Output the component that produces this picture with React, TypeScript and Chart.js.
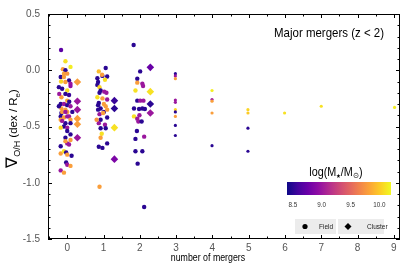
import React, { useEffect, useRef } from "react";
import { Chart, registerables } from "chart.js";
Chart.register(...registerables);

// ---- axis settings / tick labels ----
const xRange = [-0.53, 9.17];
const yRange = [-1.5, 0.5];
const xTicks = [0, 1, 2, 3, 4, 5, 6, 7, 8, 9];
const yTicks = [-1.5, -1.0, -0.5, 0.0, 0.5];
const massRange = [8.4, 10.2];
const cbarTicks = [8.5, 9.0, 9.5, 10.0];
const xTitle = "number of mergers";
const panelLabel = "Major mergers (z < 2)";

// ---- data: [x (number of mergers, jittered), gradient (dex/Re), log(M*/Msun)] ----
const fieldMergers0 = [
  [-0.17, 0.18, 8.7], [-0.05, 0.08, 10.1], [0.09, 0.03, 10.15], [-0.12, 0.01, 9.8], [-0.05, 0.0, 8.5],
  [-0.09, -0.03, 9.8], [0.0, -0.03, 9.75], [-0.18, -0.06, 8.5], [-0.09, -0.06, 9.8], [0.05, -0.09, 8.5],
  [-0.17, -0.1, 10.05], [-0.05, -0.105, 9.8], [0.09, -0.12, 9.0], [0.09, -0.14, 8.95], [-0.14, -0.165, 8.5],
  [0.0, -0.18, 10.1], [-0.05, -0.21, 8.5], [0.05, -0.22, 8.55], [-0.16, -0.24, 9.8], [0.0, -0.27, 9.85],
  [-0.18, -0.3, 8.5], [-0.09, -0.3, 9.0], [0.0, -0.31, 8.5], [0.09, -0.32, 9.0], [-0.16, -0.34, 9.8],
  [-0.05, -0.35, 9.8], [-0.16, -0.38, 8.5], [0.0, -0.37, 9.8], [-0.18, -0.41, 8.5], [-0.09, -0.42, 9.8],
  [0.05, -0.41, 9.0], [0.09, -0.44, 9.8], [-0.14, -0.37, 9.8], [-0.05, -0.37, 9.0], [0.0, -0.41, 9.0],
  [-0.18, -0.44, 9.8], [-0.05, -0.47, 8.5], [-0.09, -0.5, 8.5], [-0.18, -0.51, 10.05], [0.0, -0.51, 9.0],
  [0.09, -0.47, 8.5], [0.0, -0.54, 8.5], [0.09, -0.57, 8.5], [-0.05, -0.6, 8.5], [0.09, -0.62, 9.8],
  [0.0, -0.65, 9.0], [0.05, -0.66, 9.0], [-0.05, -0.63, 9.8], [-0.18, -0.675, 8.5], [-0.18, -0.74, 9.8],
  [-0.09, -0.72, 10.1], [-0.03, -0.73, 8.5], [0.0, -0.75, 9.8], [0.12, -0.76, 8.5], [-0.03, -0.82, 8.5],
  [0.0, -0.84, 9.0], [0.09, -0.85, 9.8], [-0.18, -0.89, 9.0], [-0.09, -0.91, 9.8], [-0.23, -0.15, 8.5],
  [-0.22, -0.21, 9.0], [0.055, -0.28, 8.5], [-0.14, -0.45, 9.0], [0.14, -0.37, 8.5], [-0.23, -0.32, 8.5],
];
const fieldMergers1 = [
  [1.06, 0.02, 8.5], [0.87, -0.01, 9.95], [0.83, -0.07, 8.5], [0.97, -0.05, 8.5], [1.1, -0.055, 8.5],
  [1.04, -0.085, 10.1], [0.85, -0.105, 8.5], [0.83, -0.13, 8.5], [0.89, -0.15, 10.05], [0.92, -0.18, 8.5],
  [1.02, -0.19, 9.0], [1.08, -0.2, 9.0], [0.89, -0.2, 8.5], [0.83, -0.24, 10.1], [0.97, -0.25, 9.8],
  [1.1, -0.26, 9.0], [0.87, -0.29, 8.5], [0.85, -0.31, 8.5], [1.01, -0.3, 9.8], [1.06, -0.32, 9.8],
  [0.92, -0.34, 8.5], [0.85, -0.35, 8.5], [1.01, -0.37, 8.5], [1.1, -0.35, 9.8], [0.89, -0.39, 9.0],
  [0.92, -0.44, 8.5], [1.1, -0.42, 8.5], [0.87, -0.47, 9.0], [1.04, -0.485, 9.0], [0.92, -0.515, 8.5],
  [1.06, -0.515, 8.5], [0.95, -0.565, 10.1], [0.92, -0.6, 9.8], [0.87, -0.68, 8.5], [0.97, -0.69, 8.5],
  [1.1, -0.65, 8.5], [0.89, -1.035, 9.8], [0.99, -0.38, 9.8], [0.81, -0.44, 9.75], [0.96, -0.04, 9.8],
];
const fieldMergers2 = [
  [1.83, 0.225, 8.5], [2.01, -0.01, 8.5], [1.93, -0.076, 8.5], [1.93, -0.11, 9.8], [2.07, -0.12, 9.0],
  [2.09, -0.14, 9.0], [1.88, -0.18, 10.1], [1.93, -0.27, 8.5], [2.01, -0.27, 9.0], [2.1, -0.27, 9.0],
  [1.84, -0.34, 8.5], [1.98, -0.345, 8.5], [2.07, -0.34, 8.5], [2.14, -0.345, 8.5], [1.84, -0.41, 10.1],
  [1.93, -0.43, 9.0], [1.96, -0.455, 9.0], [2.05, -0.455, 8.5], [1.92, -0.54, 8.5], [1.88, -0.61, 8.5],
  [2.12, -0.59, 9.0], [2.07, -0.72, 8.5], [1.88, -0.72, 8.5], [1.94, -0.83, 8.5], [2.12, -1.215, 8.5],
  [1.99, -0.4, 9.0],
];
const fieldMergers3to9 = [
  [2.98, -0.03, 8.5], [2.98, -0.05, 9.0], [2.98, -0.075, 9.8], [2.98, -0.265, 9.0], [2.98, -0.285, 9.0],
  [2.98, -0.35, 10.05], [2.98, -0.37, 8.5], [2.98, -0.41, 9.8], [2.98, -0.49, 8.5], [2.98, -0.58, 8.5],
  [3.99, -0.18, 10.15], [3.99, -0.26, 9.0], [3.99, -0.275, 9.8], [3.99, -0.38, 9.8], [3.99, -0.67, 8.5],
  [4.98, -0.35, 10.05], [4.98, -0.38, 10.0], [4.98, -0.515, 8.5], [4.98, -0.72, 8.5],
  [5.99, -0.38, 10.1], [7.0, -0.32, 10.1], [9.02, -0.33, 10.15],
];
const clusterPoints = [
  [0.28, -0.105, 9.8], [0.28, -0.275, 9.0], [0.28, -0.35, 9.0], [0.28, -0.43, 9.8], [0.28, -0.48, 9.8],
  [0.28, -0.6, 9.0], [1.3, -0.27, 8.55], [1.3, -0.34, 8.5], [1.3, -0.51, 10.1], [1.3, -0.79, 8.85],
  [2.29, 0.026, 8.75], [2.29, -0.19, 10.1], [2.29, -0.3, 8.5], [2.29, -0.38, 9.0],
];

// ---- plasma colormap ----
const PLASMA = ["#0d0887", "#41049d", "#6a00a8", "#8f0da4", "#b12a90", "#cc4778", "#e16462", "#f2844b", "#fca636", "#fcce25", "#f0f921"];
function hexRgb(h: string) {
  return [parseInt(h.slice(1, 3), 16), parseInt(h.slice(3, 5), 16), parseInt(h.slice(5, 7), 16)];
}
function plasma(t: number) {
  t = Math.max(0, Math.min(1, t));
  const f = t * 10;
  const i = Math.min(9, Math.floor(f));
  const u = f - i;
  const a = hexRgb(PLASMA[i]);
  const b = hexRgb(PLASMA[i + 1]);
  const c = a.map((v, k) => Math.round(v + (b[k] - v) * u));
  return `rgb(${c[0]},${c[1]},${c[2]})`;
}
const massColor = (m: number) => plasma((m - massRange[0]) / (massRange[1] - massRange[0]));

const FONT = "'Liberation Sans', Arial, Helvetica, sans-serif";

function drawPieces(ctx: CanvasRenderingContext2D, pieces: [string, number, number][], x: number, y: number, sx = 1) {
  let total = 0;
  for (const [t, s] of pieces) {
    ctx.font = `${s}px ${FONT}`;
    total += ctx.measureText(t).width;
  }
  ctx.save();
  ctx.translate(x, y);
  ctx.scale(sx, 1);
  let cx = -total / 2;
  ctx.textAlign = "left";
  ctx.textBaseline = "alphabetic";
  for (const [t, s, dy] of pieces) {
    ctx.font = `${s}px ${FONT}`;
    ctx.fillText(t, cx, dy);
    cx += ctx.measureText(t).width;
  }
  ctx.restore();
}

const framePlugin = {
  id: "frame",
  afterDraw(chart: any) {
    const { ctx, chartArea: a, scales } = chart;
    const xs = scales.x;
    const ys = scales.y;
    ctx.save();
    ctx.strokeStyle = "#000";
    ctx.lineWidth = 1;
    ctx.strokeRect(a.left + 0.5, a.top + 0.5, a.right - a.left - 1, a.bottom - a.top - 1);
    ctx.beginPath();
    const xt = (v: number, len: number) => {
      const p = Math.round(xs.getPixelForValue(v)) + 0.5;
      ctx.moveTo(p, a.bottom); ctx.lineTo(p, a.bottom - len);
      ctx.moveTo(p, a.top); ctx.lineTo(p, a.top + len);
    };
    const yt = (v: number, len: number) => {
      const p = Math.round(ys.getPixelForValue(v)) + 0.5;
      ctx.moveTo(a.left, p); ctx.lineTo(a.left + len, p);
      ctx.moveTo(a.right, p); ctx.lineTo(a.right - len, p);
    };
    xTicks.forEach((v) => xt(v, 4));
    for (let k = Math.ceil(xRange[0] * 2); k <= Math.floor(xRange[1] * 2); k++) if (k % 2) xt(k / 2, 2.5);
    yTicks.forEach((v) => yt(v, 4));
    for (let k = -15; k <= 5; k++) if (k % 5) yt(k / 10, 2.5);
    ctx.stroke();
    ctx.restore();
  },
};

const overlayPlugin = {
  id: "overlay",
  afterDraw(chart: any) {
    const { ctx, chartArea: a } = chart;
    ctx.save();
    ctx.fillStyle = "#000";
    // y-axis title
    ctx.save();
    ctx.translate(17, (a.top + a.bottom) / 2 + 2);
    ctx.rotate(-Math.PI / 2);
    drawPieces(ctx, [["\u2207", 16, 0], ["O/H", 9, 3], [" (dex / R", 11.5, 0], ["e", 8, 3], [")", 11.5, 0]], 0, 0);
    ctx.restore();
    // x-axis title
    drawPieces(ctx, [[xTitle, 10, 0]], 208, 261, 0.88);
    // panel label
    drawPieces(ctx, [[panelLabel, 13.5, 0]], 329, 37, 0.85);
    // colour bar
    const cx0 = 287, cx1 = 391, cy0 = 182, cy1 = 195;
    const g = ctx.createLinearGradient(cx0, 0, cx1, 0);
    for (let i = 0; i <= 20; i++) g.addColorStop(i / 20, plasma(i / 20));
    ctx.fillStyle = g;
    ctx.fillRect(cx0, cy0, cx1 - cx0, cy1 - cy0);
    ctx.fillStyle = "#333";
    cbarTicks.forEach((v) => {
      const px = cx0 + ((v - massRange[0]) / (massRange[1] - massRange[0])) * (cx1 - cx0);
      drawPieces(ctx, [[v.toFixed(1), 7, 0]], px, 207, 0.9);
    });
    ctx.fillStyle = "#000";
    drawPieces(ctx, [["log(M", 12, 0], ["\u2605", 5.5, 2], ["/M", 12, 0], ["\u2299", 8, 2], [")", 12, 0]], 336, 176, 0.9);
    // marker legend
    ctx.fillStyle = "#ececec";
    ctx.fillRect(295, 219, 41, 15);
    ctx.fillRect(338, 219, 46, 15);
    ctx.fillStyle = "#000";
    ctx.beginPath();
    ctx.arc(305, 226.5, 2.6, 0, Math.PI * 2);
    ctx.fill();
    ctx.beginPath();
    ctx.moveTo(348, 223); ctx.lineTo(351.5, 226.5); ctx.lineTo(348, 230); ctx.lineTo(344.5, 226.5);
    ctx.closePath();
    ctx.fill();
    ctx.fillStyle = "#222";
    ctx.font = `6.5px ${FONT}`;
    ctx.textBaseline = "middle";
    ctx.textAlign = "left";
    ctx.fillText("Field", 319, 227);
    ctx.fillText("Cluster", 367, 227);
    ctx.restore();
  },
};

export default function App() {
  const ref = useRef<HTMLCanvasElement>(null);
  useEffect(() => {
    const field = [...fieldMergers0, ...fieldMergers1, ...fieldMergers2, ...fieldMergers3to9];
    const chart = new Chart(ref.current as HTMLCanvasElement, {
      type: "scatter",
      data: {
        datasets: [
          {
            label: "Field",
            data: field.map((p) => ({ x: p[0], y: p[1] })),
            pointStyle: "circle",
            pointBackgroundColor: field.map((p) => massColor(p[2])),
            pointBorderWidth: 0,
            pointRadius: (c: any) => (c.raw && c.raw.x > 2.6 ? 1.6 : 2.2),
          },
          {
            label: "Cluster",
            data: clusterPoints.map((p) => ({ x: p[0], y: p[1] })),
            pointStyle: "rectRot",
            pointBackgroundColor: clusterPoints.map((p) => massColor(p[2])),
            pointBorderWidth: 0,
            pointRadius: 3.8,
          },
        ],
      } as any,
      options: {
        responsive: false,
        animation: false,
        devicePixelRatio: 1,
        layout: { padding: { top: 10, right: 15, left: 0, bottom: 0 } },
        plugins: { legend: { display: false }, tooltip: { enabled: false } },
        scales: {
          x: {
            type: "linear",
            min: xRange[0],
            max: xRange[1],
            afterBuildTicks: (s: any) => { s.ticks = xTicks.map((v) => ({ value: v })); },
            afterFit: (s: any) => { s.height = 32; },
            grid: { display: false, drawTicks: false },
            border: { display: false },
            ticks: { padding: 3, color: "#555", autoSkip: false, maxRotation: 0, font: { family: FONT, size: 10 }, callback: (v: any) => String(v) },
          },
          y: {
            type: "linear",
            min: yRange[0],
            max: yRange[1],
            afterBuildTicks: (s: any) => { s.ticks = yTicks.map((v) => ({ value: v })); },
            afterFit: (s: any) => { s.width = 48; },
            grid: { display: false, drawTicks: false },
            border: { display: false },
            ticks: { padding: 8, color: "#555", font: { family: FONT, size: 10 }, callback: (v: any) => Number(v).toFixed(1) },
          },
        },
      } as any,
      plugins: [framePlugin, overlayPlugin],
    });
    return () => chart.destroy();
  }, []);
  return (
    <div style={{ position: "absolute", left: 0, top: 0, width: 415, height: 271, background: "#fff" }}>
      <canvas ref={ref} width={415} height={271} style={{ display: "block" }} />
    </div>
  );
}
